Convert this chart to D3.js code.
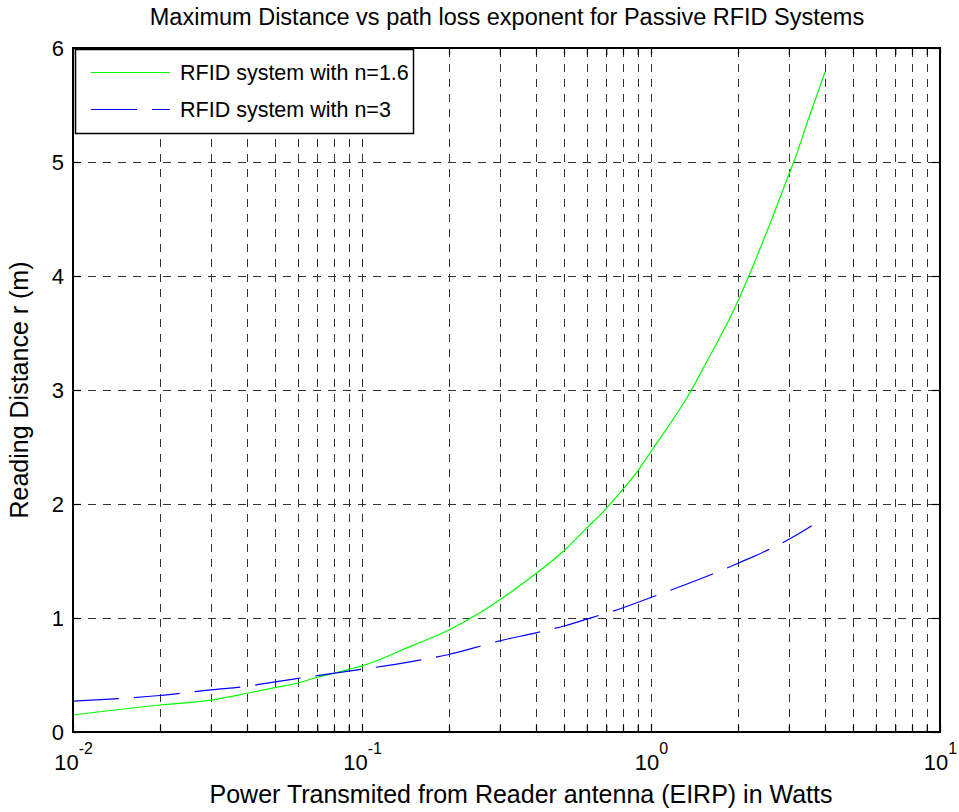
<!DOCTYPE html>
<html><head><meta charset="utf-8">
<script src="https://cdn.jsdelivr.net/npm/d3@7"></script>
<style>
html,body{margin:0;padding:0;background:#fff;}
svg{display:block;font-family:Arial,"Liberation Sans",sans-serif;}
</style></head>
<body>
<svg id="chart" width="959" height="812"></svg>
<script>
// ---- data ----
const powerN16 = [0.01,0.02,0.03,0.04,0.05,0.06,0.07,0.08,0.09,0.1,0.15,0.2,0.25,0.3,0.4,0.5,0.6,0.7,0.8,0.9,1.0,1.38,1.5,2.0,2.18,2.5,3.0,3.15,3.5,4.0];
const distN16  = [0.149,0.237,0.28,0.34,0.39,0.43,0.48,0.515,0.55,0.58,0.76,0.895,1.03,1.16,1.39,1.59,1.79,1.96,2.13,2.29,2.46,3.0,3.17,3.78,4.0,4.37,4.89,5.03,5.37,5.79];
const powerN3 = [0.01,0.02,0.03,0.04,0.05,0.06,0.1,0.15,0.2,0.3,0.4,0.5,0.6,0.8,1.0,2.0,3.0,3.6];
const distN3  = [0.27,0.32,0.37,0.40,0.44,0.47,0.55,0.62,0.68,0.80,0.87,0.93,0.99,1.09,1.18,1.48,1.69,1.81];
const seriesNames = ["RFID system with n=1.6","RFID system with n=3"];
const xMajorTicks = [0.01,0.1,1,10];
const xMajorExp = ["-2","-1","0","1"];
const yTicks = [0,1,2,3,4,5,6];
const titleText = "Maximum Distance vs path loss exponent for Passive RFID Systems";
const xLabelText = "Power Transmited from Reader antenna (EIRP) in Watts";
const yLabelText = "Reading Distance r (m)";

// ---- layout ----
const L = 73, R = 940, T = 48, B = 732;
const svg = d3.select("#chart");
const x = d3.scaleLog().domain([0.01,10]).range([L,R]);
const y = d3.scaleLinear().domain([0,6]).range([B,T]);

const xMinor = [];
[0.01,0.1,1].forEach(d=>{for(let k=2;k<=9;k++) xMinor.push(+(d*k).toPrecision(3));});

svg.append("rect").attr("width",959).attr("height",812).attr("fill","#fff");

// grid
const grid = svg.append("g").attr("stroke","#000").attr("stroke-width",1).attr("stroke-dasharray","8,7").attr("opacity",0.8);
grid.selectAll("line.v").data(xMinor.concat([0.1,1])).join("line")
  .attr("x1",d=>Math.round(x(d))+0.5).attr("x2",d=>Math.round(x(d))+0.5)
  .attr("y1",B).attr("y2",T);
grid.selectAll("line.h").data(yTicks.filter(d=>d>0&&d<6)).join("line")
  .attr("y1",d=>Math.round(y(d))+0.5).attr("y2",d=>Math.round(y(d))+0.5)
  .attr("x1",L).attr("x2",R);

// series
const line = d3.line().x(d=>x(d[0])).y(d=>y(d[1])).curve(d3.curveMonotoneX);
svg.append("path").datum(powerN16.map((p,i)=>[p,distN16[i]]))
  .attr("d",line).attr("fill","none").attr("stroke","#00ff00").attr("stroke-width",1.2);
svg.append("path").datum(powerN3.map((p,i)=>[p,distN3[i]]))
  .attr("d",line).attr("fill","none").attr("stroke","#0000ff").attr("stroke-width",1.2)
  .attr("stroke-dasharray","46,15");

// axes
const fs = 22;
const styleAxis = g => { g.select(".domain").remove(); g.selectAll(".tick line").attr("stroke","#000").attr("stroke-width",1.2); };

const xb = svg.append("g").attr("transform",`translate(0,${B})`)
  .call(d3.axisBottom(x).tickValues(xMajorTicks).tickSize(-8).tickPadding(10).tickFormat(()=>""));
styleAxis(xb);
xb.selectAll(".tick text").each(function(d,i){
  const t = d3.select(this).attr("y",null).attr("dy",null).attr("font-size",fs).attr("fill","#000")
     .attr("text-anchor","middle").attr("transform","translate(0,38)");
  t.text(null);
  t.append("tspan").text("10");
  t.append("tspan").attr("dy",-16).attr("font-size",16).text(xMajorExp[i]);
});
const xbm = svg.append("g").attr("transform",`translate(0,${B})`)
  .call(d3.axisBottom(x).tickValues(xMinor).tickSize(-7).tickFormat(()=>""));
styleAxis(xbm);
const xt = svg.append("g").attr("transform",`translate(0,${T})`)
  .call(d3.axisTop(x).tickValues(xMajorTicks.concat(xMinor)).tickSize(-7).tickFormat(()=>""));
styleAxis(xt);

const yl = svg.append("g").attr("transform",`translate(${L},0)`)
  .call(d3.axisLeft(y).tickValues(yTicks).tickSize(-8).tickPadding(9).tickFormat(d3.format("d")));
styleAxis(yl);
yl.selectAll(".tick text").attr("font-size",fs).attr("fill","#000").attr("font-family","Arial,'Liberation Sans',sans-serif");
const yr = svg.append("g").attr("transform",`translate(${R},0)`)
  .call(d3.axisRight(y).tickValues(yTicks).tickSize(-8).tickFormat(()=>""));
styleAxis(yr);

// box
svg.append("rect").attr("x",L).attr("y",T).attr("width",R-L).attr("height",B-T)
  .attr("fill","none").attr("stroke","#000").attr("stroke-width",2);

// legend
const lg = svg.append("g");
lg.append("rect").attr("x",75.5).attr("y",49.5).attr("width",338).attr("height",84)
  .attr("fill","#fff").attr("stroke","#000").attr("stroke-width",1.5);
const legendItems = [
  {name:seriesNames[0], color:"#00ff00", dash:null, ly:72.5, ty:80},
  {name:seriesNames[1], color:"#0000ff", dash:"46,15", ly:109.5, ty:117}
];
legendItems.forEach(it=>{
  lg.append("line").attr("x1",91).attr("x2",170).attr("y1",it.ly).attr("y2",it.ly)
    .attr("stroke",it.color).attr("stroke-width",1.2).attr("stroke-dasharray",it.dash);
  lg.append("text").attr("x",180).attr("y",it.ty).attr("font-size",21.5).attr("fill","#000").text(it.name);
});

// labels
svg.append("text").attr("x",507).attr("y",25).attr("text-anchor","middle").attr("font-size",23.5).text(titleText);
svg.append("text").attr("x",521).attr("y",803).attr("text-anchor","middle").attr("font-size",25).text(xLabelText);
svg.append("text").attr("transform","translate(28,390) rotate(-90)").attr("text-anchor","middle").attr("font-size",25).text(yLabelText);
</script>
</body></html>
